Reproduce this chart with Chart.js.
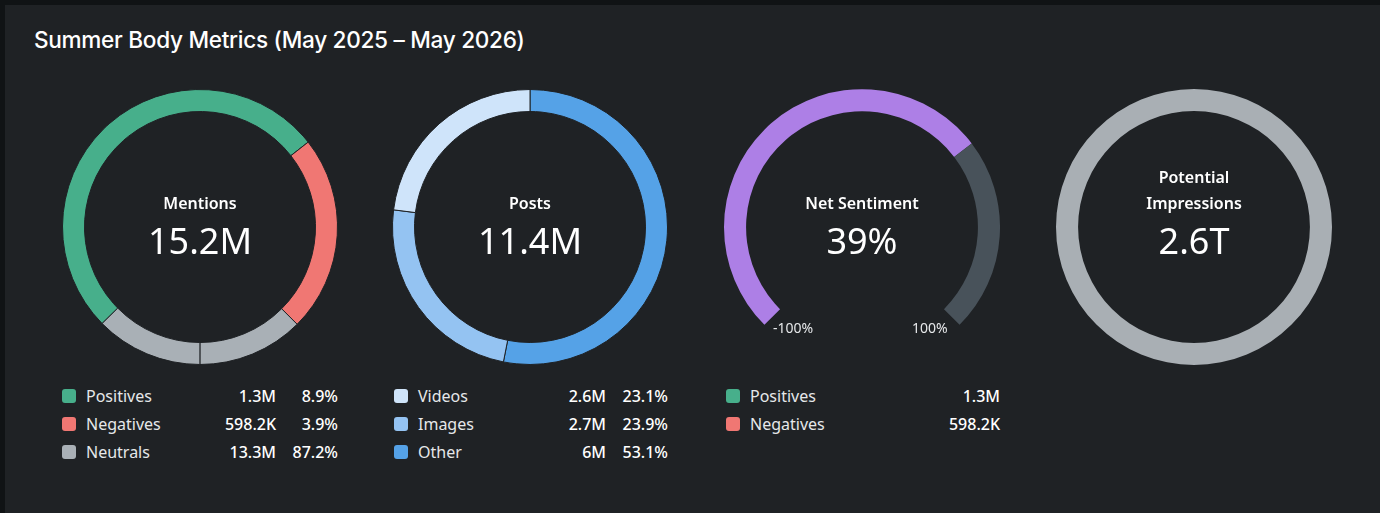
<!DOCTYPE html>
<html>
<head>
<meta charset="utf-8">
<script src="https://cdn.jsdelivr.net/npm/chart.js@4.4.1/dist/chart.umd.min.js"></script>
<style>
  html, body { margin: 0; padding: 0; }
  body {
    width: 1380px; height: 513px; overflow: hidden;
    background: #101315;
    font-family: "Noto Sans", "Open Sans", sans-serif;
  }
  .panel {
    position: absolute; left: 5px; top: 5px; right: 0; bottom: 0;
    background: #1f2225;
  }
  .title {
    position: absolute; left: 34px; top: 26px;
    font-family: "Inter", sans-serif; font-weight: 500; font-size: 22.6px;
    letter-spacing: -0.3px;
    color: #ffffff;
  }
  .ring { position: absolute; }
  .center {
    position: absolute; width: 240px; text-align: center; color: #fff;
  }
  .center .name { font-weight: 600; font-size: 16px; line-height: 26px; }
  .center .big { font-size: 36px; line-height: 42px; margin-top: 4px; }
  .legend { position: absolute; color: #e6e8ea; font-size: 16px; }
  .legend .row { position: relative; height: 28px; line-height: 28px; }
  .legend .sw {
    position: absolute; left: 0; top: 7px; width: 14px; height: 14px; border-radius: 3px;
  }
  .legend .lab { position: absolute; left: 24px; }
  .legend .val, .legend .pct {
    position: absolute; text-align: right; font-weight: 500; color: #fff;
  }
  .gauge-tick { position: absolute; color: #e6e8ea; font-size: 14px; }
</style>
</head>
<body>
<div class="panel"></div>
<div class="title">Summer Body Metrics (May 2025 – May 2026)</div>

<div class="ring" style="left:62px;top:89px;width:276px;height:276px"><canvas id="mentionsChart"></canvas></div>
<div class="ring" style="left:392px;top:89px;width:276px;height:276px"><canvas id="postsChart"></canvas></div>
<div class="ring" style="left:724px;top:89px;width:276px;height:236px"><canvas id="sentimentChart"></canvas></div>
<div class="ring" style="left:1056px;top:89px;width:276px;height:276px"><canvas id="impressionsChart"></canvas></div>

<div class="center" style="left:80px;top:190px"><div class="name">Mentions</div><div class="big">15.2M</div></div>
<div class="center" style="left:410px;top:190px"><div class="name">Posts</div><div class="big">11.4M</div></div>
<div class="center" style="left:742px;top:190px"><div class="name">Net Sentiment</div><div class="big">39%</div></div>
<div class="center" style="left:1074px;top:164px"><div class="name">Potential</div><div class="name">Impressions</div><div class="big">2.6T</div></div>

<div class="gauge-tick" style="left:773px;top:318px">-100%</div>
<div class="gauge-tick" style="left:912px;top:318px">100%</div>

<div class="legend" id="legendMentions" style="left:62px;top:382px;width:276px"></div>
<div class="legend" id="legendPosts" style="left:394px;top:382px;width:274px"></div>
<div class="legend" id="legendSentiment" style="left:726px;top:382px;width:274px"></div>

<script>
// ===== Data =====
const mentionLabels = ['Positives', 'Negatives', 'Neutrals'];
const mentionValues = ['1.3M', '598.2K', '13.3M'];
const mentionPercents = ['8.9%', '3.9%', '87.2%'];
const mentionColors = ['#47af8b', '#f07773', '#a9b0b6'];
// arc shares as drawn in the ring (green, red, grey, grey)
const mentionArcs = [51.8, 23.1, 12.5, 12.6];

const postLabels = ['Videos', 'Images', 'Other'];
const postValues = ['2.6M', '2.7M', '6M'];
const postPercents = ['23.1%', '23.9%', '53.1%'];
const postColors = ['#cfe4fa', '#94c3f2', '#55a2e7'];
// ring order clockwise from top: Other, Images, Videos
const postArcs = [6.0, 2.7, 2.6];

const sentimentLabels = ['Positives', 'Negatives'];
const sentimentValues = ['1.3M', '598.2K'];
const sentimentColors = ['#47af8b', '#f07773'];
const netSentiment = 39;
const sentimentMin = -100;
const sentimentMax = 100;

const impressionsArcs = [2.6];

const panelBg = '#1f2225';

// ===== Legends =====
function buildLegend(id, labels, values, percents, colors, valRight, pctRight) {
    const el = document.getElementById(id);
    labels.forEach((label, i) => {
        const row = document.createElement('div');
        row.className = 'row';
        let html = `<span class="sw" style="background:${colors[i]}"></span>` +
                   `<span class="lab">${label}</span>` +
                   `<span class="val" style="right:${valRight}px">${values[i]}</span>`;
        if (percents) html += `<span class="pct" style="right:${pctRight}px">${percents[i]}</span>`;
        row.innerHTML = html;
        el.appendChild(row);
    });
}
buildLegend('legendMentions', mentionLabels, mentionValues, mentionPercents, mentionColors, 62, 0);
buildLegend('legendPosts', postLabels, postValues, postPercents, postColors, 62, 0);
buildLegend('legendSentiment', sentimentLabels, sentimentValues, null, sentimentColors, 0, 0);

// ===== Charts =====
const baseOptions = {
    responsive: true,
    maintainAspectRatio: false,
    animation: false,
    cutout: '84%',
    layout: { padding: 0 },
    plugins: { legend: { display: false }, tooltip: { enabled: false } }
};

new Chart(document.getElementById('mentionsChart'), {
    type: 'doughnut',
    data: {
        labels: ['Positives', 'Negatives', 'Neutrals', 'Neutrals'],
        datasets: [{
            data: mentionArcs,
            backgroundColor: [mentionColors[0], mentionColors[1], mentionColors[2], mentionColors[2]],
            borderColor: panelBg,
            borderWidth: 1
        }]
    },
    options: { ...baseOptions, rotation: -134.6 }
});

new Chart(document.getElementById('postsChart'), {
    type: 'doughnut',
    data: {
        labels: ['Other', 'Images', 'Videos'],
        datasets: [{
            data: postArcs,
            backgroundColor: [postColors[2], postColors[1], postColors[0]],
            borderColor: panelBg,
            borderWidth: 1
        }]
    },
    options: { ...baseOptions }
});

new Chart(document.getElementById('sentimentChart'), {
    type: 'doughnut',
    data: {
        labels: ['Net Sentiment', 'Remaining'],
        datasets: [{
            data: [netSentiment - sentimentMin, sentimentMax - netSentiment],
            backgroundColor: ['#ad7fe6', '#48525a'],
            borderWidth: 0
        }]
    },
    options: { ...baseOptions, rotation: -135, circumference: 270 }
});

new Chart(document.getElementById('impressionsChart'), {
    type: 'doughnut',
    data: {
        labels: ['Potential Impressions'],
        datasets: [{
            data: impressionsArcs,
            backgroundColor: ['#a9afb4'],
            borderWidth: 0
        }]
    },
    options: { ...baseOptions }
});
</script>
</body>
</html>
